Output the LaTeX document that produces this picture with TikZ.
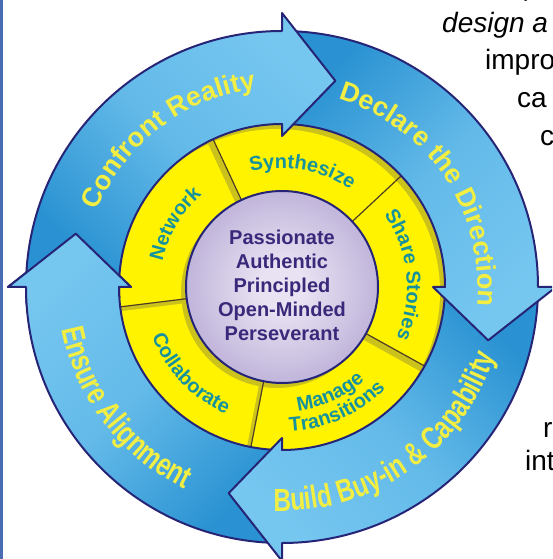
\documentclass[tikz,border=0pt]{standalone}
\usepackage{fontspec}
\setmainfont{Liberation Sans}
\newfontfamily\narrowsans[FakeStretch=0.76]{Liberation Sans}
\usetikzlibrary{decorations.text}

\definecolor{ringlight}{RGB}{118,199,240}
\definecolor{ringdark}{RGB}{42,146,210}
\definecolor{ringline}{RGB}{38,36,118}
\definecolor{segyellow}{RGB}{255,243,0}
\definecolor{segshadow}{RGB}{204,194,28}
\definecolor{segline}{RGB}{78,62,36}
\definecolor{segtext}{RGB}{22,146,158}
\definecolor{ringtext}{RGB}{243,238,66}
\definecolor{coretext}{RGB}{58,40,122}
\definecolor{coremid}{RGB}{232,226,242}
\definecolor{coreedge}{RGB}{140,122,188}
\definecolor{pageline}{RGB}{74,108,178}

\pgfdeclareradialshading{coreball}{\pgfpoint{0bp}{0bp}}{color(0bp)=(coremid); color(6bp)=(coremid); color(50bp)=(coreedge)}

\newcommand{\ringarrow}[2]{(#1:256) arc[start angle=#1, end angle=#2, radius=256] -- (#2:274) -- ({#2-14.5}:213) -- (#2:151) -- (#2:163) arc[start angle=#2, end angle=#1, radius=163] -- cycle}
\newcommand{\ringseg}[1]{(#1:96) arc[start angle=#1, end angle={#1-72}, radius=96] -- ({#1-72}:163) arc[start angle={#1-72}, end angle=#1, radius=163] -- cycle}
\newcommand{\bevelseg}[1]{\fill[segshadow] \ringseg{#1}; \begin{scope} \clip \ringseg{#1}; \fill[segyellow, shift={(-5,-5)}] \ringseg{#1}; \end{scope}}
\newcommand{\bigring}{\fontsize{27}{30}\selectfont\bfseries\color{ringtext}}
\newcommand{\narrowring}{\narrowsans\fontsize{32}{36}\selectfont\bfseries\color{ringtext}}
\newcommand{\segfont}{\fontsize{20}{22}\selectfont\bfseries\color{segtext}}

\begin{document}
\begin{tikzpicture}
        [x=1pt, y=1pt, every node/.style={inner sep=0}, arrowline/.style={draw=ringline, line width=2pt, line join=round}, arrowshade/.style={top color=ringlight, bottom color=ringdark, middle color=ringlight!75!ringdark, shading angle=#1}, sidetext/.style={anchor=base west, font=\fontsize{28}{34}\selectfont}]

        \useasboundingbox (-282,-272) rectangle (270,287);
        \clip (-282,-272) rectangle (270,287);
        \fill[pageline] (-282,-272) rectangle (-279,287);

        \bevelseg{187}
        \bevelseg{115}
        \bevelseg{43}
        \bevelseg{-29}
        \bevelseg{-101}
        \draw[segline, line width=1.2pt] (115:96) -- (115:163);
        \draw[segline, line width=1.2pt] (43:96) -- (43:163);
        \draw[segline, line width=1.2pt] (-29:96) -- (-29:163);
        \draw[segline, line width=1.2pt] (-101:96) -- (-101:163);
        \draw[segline, line width=1.2pt] (-173:96) -- (-173:163);

        \path[arrowline, arrowshade=45] \ringarrow{-90}{-180};
        \path[arrowline, arrowshade=135] \ringarrow{0}{-90};
        \path[arrowline, arrowshade=-135] \ringarrow{90}{0};
        \path[arrowline, arrowshade=-45] \ringarrow{180}{90};
        \begin{scope}
                \clip (0,0) -- (184:300) -- (150:300) -- cycle;
                \path[arrowline, arrowshade=45] \ringarrow{-90}{-180};
        \end{scope}

        \shadedraw[shading=coreball, draw=ringline, line width=2pt] (0,0) circle (96);
        \node[align=center, text=coretext, font=\fontsize{20}{24}\selectfont\bfseries] (core) at (0,2) {Passionate\\Authentic\\Principled\\Open-Minded\\Perseverant};

        \path[decorate, decoration={text along path, text align=center, text={|\bigring|Confront Reality}}] (177.5:200) arc[start angle=177.5, end angle=77.5, radius=200];
        \path[decorate, decoration={text along path, text align=center, text={|\bigring|Declare the Direction}}] (93.9:196) arc[start angle=93.9, end angle=-26.1, radius=196];
        \path[decorate, decoration={text along path, text align=center, text={|\narrowring|Build Buy-in {\&} Capability}}] (-115:224) arc[start angle=-115, end angle=5, radius=224];
        \path[decorate, decoration={text along path, text align=center, text={|\narrowring|Ensure Alignment}}] (157.6:224) arc[start angle=157.6, end angle=277.6, radius=224];

        \path[decorate, decoration={text along path, text align=center, text={|\segfont|Network}}] (199.5:122) arc[start angle=199.5, end angle=99.5, radius=122];
        \path[decorate, decoration={text along path, text align=center, text={|\segfont|Synthesize}}] (130:119) arc[start angle=130, end angle=30, radius=119];
        \path[decorate, decoration={text along path, text align=center, text={|\segfont|Share Stories}}] (55.8:125) arc[start angle=55.8, end angle=-44.2, radius=125];
        \path[decorate, decoration={text along path, text align=center, text={|\segfont|Manage}}] (-115.6:125) arc[start angle=-115.6, end angle=-15.6, radius=125];
        \path[decorate, decoration={text along path, text align=center, text={|\segfont|Transitions}}] (-115.7:145) arc[start angle=-115.7, end angle=-15.7, radius=145];
        \path[decorate, decoration={text along path, text align=center, text={|\segfont|Collaborate}}] (173.5:139) arc[start angle=173.5, end angle=273.5, radius=139];

        \node[sidetext, font=\fontsize{28}{34}\selectfont\itshape] (t1) at (243,291) {p};
        \node[sidetext, font=\fontsize{28}{34}\selectfont\itshape] (t2) at (160,254) {design a};
        \node[sidetext] (t3) at (203,217) {impro};
        \node[sidetext] (t4) at (235,179) {ca};
        \node[sidetext] (t5) at (258,141) {c};
        \node[sidetext] (t6) at (261,-150) {r};
        \node[sidetext] (t7) at (243,-183) {int};
\end{tikzpicture}
\end{document}
